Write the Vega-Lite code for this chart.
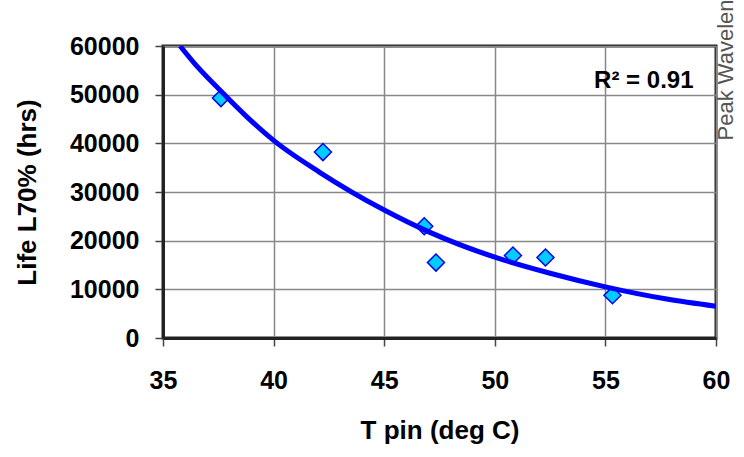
{
  "$schema": "https://vega.github.io/schema/vega-lite/v6.json",
  "autosize": {"type": "none"},
  "padding": {"left": 163, "top": 46, "right": 28, "bottom": 119},
  "width": 553,
  "height": 292,
  "background": "white",
  "config": {
    "font": "Liberation Sans",
    "view": {"stroke": "#222222", "strokeWidth": 3, "fill": "white"},
    "axis": {
      "labelFont": "Liberation Sans",
      "titleFont": "Liberation Sans",
      "labelColor": "black",
      "titleColor": "black",
      "labelFontWeight": "bold",
      "titleFontWeight": "bold",
      "labelFontSize": 25,
      "titleFontSize": 26,
      "gridColor": "#888888",
      "gridWidth": 1.5,
      "gridOpacity": 1,
      "domainColor": "#222222",
      "domainWidth": 3,
      "tickColor": "#444444",
      "tickWidth": 1.5,
      "tickSize": 8,
      "labelFlush": false,
      "labelOverlap": false
    }
  },
  "datasets": {
    "points": [
      {"tpin": 37.62, "life": 49300},
      {"tpin": 42.23, "life": 38200},
      {"tpin": 46.81, "life": 22970},
      {"tpin": 47.34, "life": 15500},
      {"tpin": 50.82, "life": 16950},
      {"tpin": 52.29, "life": 16540},
      {"tpin": 55.32, "life": 8780}
    ],
    "trend": [
      {"tpin": 35.77, "life": 60000},
      {"tpin": 36.37, "life": 56700},
      {"tpin": 37.58, "life": 50900},
      {"tpin": 38.78, "life": 45500},
      {"tpin": 40.0, "life": 40600},
      {"tpin": 42.1, "life": 34000},
      {"tpin": 45.0, "life": 26300},
      {"tpin": 47.07, "life": 21700},
      {"tpin": 50.0, "life": 16600},
      {"tpin": 52.5, "life": 13300},
      {"tpin": 55.0, "life": 10500},
      {"tpin": 57.77, "life": 8000},
      {"tpin": 60.0, "life": 6520}
    ]
  },
  "layer": [
    {
      "data": {"name": "points"},
      "mark": {"type": "point", "shape": "diamond", "filled": true, "size": 289, "fill": "#00ccff", "stroke": "#0000ee", "strokeWidth": 1.5, "opacity": 1},
      "encoding": {
        "x": {
          "field": "tpin", "type": "quantitative",
          "scale": {"domain": [35, 60], "nice": false, "zero": false},
          "axis": {
            "orient": "bottom",
            "values": [35, 40, 45, 50, 55, 60],
            "labelPadding": 22,
            "title": "T pin (deg C)",
            "titleY": 79,
            "titleBaseline": "top"
          }
        },
        "y": {
          "field": "life", "type": "quantitative",
          "scale": {"domain": [0, 60000], "nice": false},
          "axis": {
            "orient": "left",
            "values": [0, 10000, 20000, 30000, 40000, 50000, 60000],
            "format": "d",
            "labelPadding": 16,
            "title": "Life L70% (hrs)",
            "titleX": -136,
            "titleBaseline": "middle"
          }
        }
      }
    },
    {
      "data": {"name": "trend"},
      "mark": {"type": "line", "color": "#0000ff", "strokeWidth": 5, "interpolate": "monotone", "clip": true},
      "encoding": {
        "x": {
          "field": "tpin", "type": "quantitative",
          "axis": {
            "orient": "top",
            "labels": false, "ticks": false, "domain": false, "grid": false,
            "title": "R² = 0.91",
            "titleFontSize": 24,
            "titleX": 530,
            "titleY": 41,
            "titleAlign": "right",
            "titleBaseline": "alphabetic"
          }
        },
        "y": {
          "field": "life", "type": "quantitative",
          "axis": {
            "orient": "right",
            "labels": false, "ticks": false, "domain": false, "grid": false,
            "title": "Peak Wavelength",
            "titleFontWeight": "normal",
            "titleColor": "#555555",
            "titleFontSize": 22,
            "titleAngle": 270,
            "titleAlign": "left",
            "titleBaseline": "middle",
            "titleX": 9,
            "titleY": 94
          }
        }
      }
    }
  ],
  "resolve": {"axis": {"x": "independent", "y": "independent"}}
}
